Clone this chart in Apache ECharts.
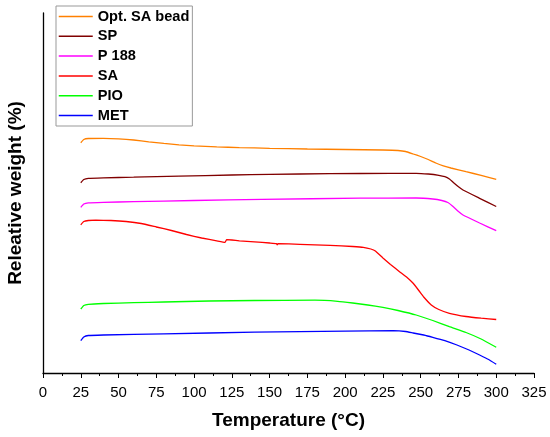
<!DOCTYPE html>
<html>
<head>
<meta charset="utf-8">
<script src="https://cdn.jsdelivr.net/npm/echarts@6/dist/echarts.min.js"></script>
<style>
  html, body { margin: 0; padding: 0; background: #fff; }
  #chart { width: 550px; height: 437px; }
</style>
</head>
<body>
<div id="chart"></div>
<script>
// TGA curves (y is relative, offset per sample, axis unlabelled)
var xTicks = [0, 25, 50, 75, 100, 125, 150, 175, 200, 225, 250, 275, 300, 325];

var optBead = [[25,230.3],[27,233.5],[30,234.5],[40,234.7],[50,234.2],[60,233],[70,231.2],[80,229.6],[90,228.2],[100,227.2],[115,226.1],[130,225.4],[150,224.7],[175,224],[200,223.5],[225,223],[235,222.5],[240,221.5],[245,219],[250,216.5],[255,213.5],[260,210],[265,207.2],[270,205],[280,201.3],[290,197.7],[300,193.7]];
var sp = [[25,190.3],[27,193.5],[30,194.7],[40,195.2],[60,195.8],[90,196.8],[125,198],[150,198.7],[190,199.3],[230,199.7],[247,199.7],[255,199],[262,197.7],[266,196.3],[269,194],[272,190],[275,186.2],[278,183],[289,174.7],[300,166.5]];
var p188 = [[25,165.7],[27,169],[30,170.2],[40,170.7],[60,171.3],[100,172.5],[145,173.7],[210,174.8],[247,175],[258,174],[264,172.5],[268,170.5],[271,167],[275,161.5],[278,158],[289,150],[300,142.3]];
var sa = [[25,148.2],[27,151.5],[30,152.5],[35,152.8],[45,152.5],[55,151.5],[65,149.5],[75,146],[85,142.5],[95,138.5],[105,135],[115,132.2],[120.5,130.7],[121.5,133.3],[125,133],[130,132.2],[140,131.2],[150,130],[154.5,129.4],[155,128.2],[155.5,129.4],[170,128.7],[190,127.7],[205,126.5],[212,125.7],[217,124],[220,122],[225,115],[230,108.5],[236,101.3],[241,95.5],[245,89.7],[249,82],[252,76],[257,68],[262,63.5],[269,59.7],[280,56.5],[290,54.8],[300,53.5]];
var pio = [[25,64],[27,67.5],[30,68.7],[40,69.5],[60,70.3],[80,71],[110,72],[140,72.5],[180,72.8],[195,71.7],[205,70],[215,68],[225,65.7],[235,62.5],[247,58],[258,52.5],[269,46.3],[280,40.5],[290,34],[300,25.7]];
var met = [[25,32.3],[27,36],[30,37.5],[40,38],[80,39.2],[140,40.8],[200,41.8],[232,42.3],[240,41.5],[245,40],[252,38],[258,35.7],[266,32.3],[274,28],[282,23],[289,18],[295,13.5],[300,8.7]];

var names = ['Opt. SA bead', 'SP', 'P 188', 'SA', 'PIO', 'MET'];
var colors = ['#FF8000', '#800000', '#FF00FF', '#FF0000', '#00FF00', '#0000FF'];
var sets = [optBead, sp, p188, sa, pio, met];

var chart = echarts.init(document.getElementById('chart'));

var series = names.map(function (n, i) {
    return {
        name: n,
        type: 'line',
        data: sets[i],
        symbol: 'none',
        smooth: 0.1,
        lineStyle: { color: colors[i], width: 1.3 },
        itemStyle: { color: colors[i] }
    };
});

chart.setOption({
    animation: false,
    textStyle: { fontFamily: 'Liberation Sans, Arial, sans-serif' },
    grid: { left: 43, right: 16, top: 13, bottom: 64, outerBoundsMode: 'none' },
    legend: {
        orient: 'vertical',
        left: 56,
        top: 6,
        data: names,
        itemWidth: 34,
        itemHeight: 14,
        itemGap: 4.8,
        padding: [3, 3, 3, 2],
        borderColor: '#999',
        borderWidth: 1,
        itemStyle: { opacity: 0 },
        lineStyle: { width: 1.5 },
        textStyle: { color: '#000', fontWeight: 'bold', fontSize: 14.6, lineHeight: 14 }
    },
    xAxis: {
        type: 'value',
        min: 0,
        max: 325,
        interval: 25,
        name: 'Temperature (°C)',
        nameLocation: 'middle',
        nameGap: 38,
        nameTextStyle: { color: '#000', fontWeight: 'bold', fontSize: 19 },
        axisLine: { lineStyle: { color: '#000', width: 1.3 } },
        axisTick: { inside: false, length: 5, lineStyle: { color: '#000' } },
        minorTick: { show: true, splitNumber: 2, length: 3, lineStyle: { color: '#000' } },
        axisLabel: {
            color: '#000', fontSize: 15, margin: 12,
            formatter: function (v) { return xTicks.indexOf(v) >= 0 ? String(v) : ''; }
        },
        splitLine: { show: false }
    },
    yAxis: {
        type: 'value',
        min: 0,
        max: 360,
        name: 'Releative weight (%)',
        nameLocation: 'middle',
        nameGap: 18,
        nameTextStyle: { color: '#000', fontWeight: 'bold', fontSize: 19 },
        axisLine: { show: true, lineStyle: { color: '#000', width: 1.3 } },
        axisTick: { show: false },
        axisLabel: { show: false },
        splitLine: { show: false }
    },
    series: series
});
</script>
</body>
</html>
